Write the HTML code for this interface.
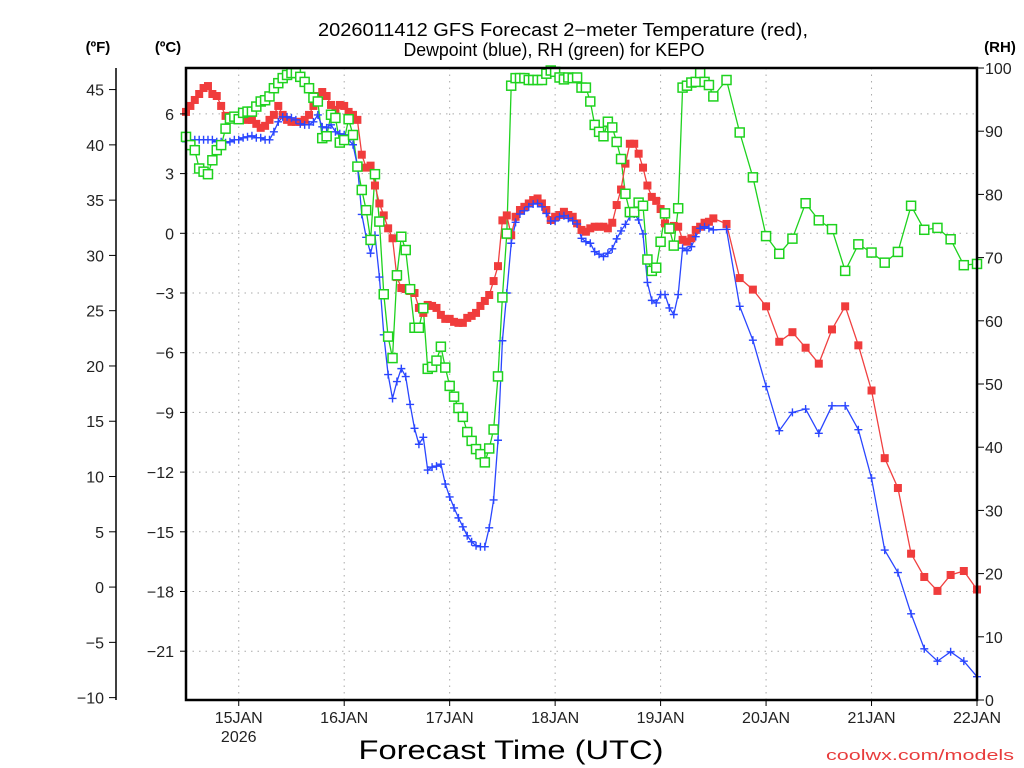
<!DOCTYPE html>
<html><head><meta charset="utf-8">
<style>
html,body{margin:0;padding:0;background:#fff;}
svg{display:block;font-family:"Liberation Sans",sans-serif;}
</style></head>
<body>
<svg id="chart" width="1024" height="768" viewBox="0 0 1024 768" xmlns="http://www.w3.org/2000/svg">
<rect x="0" y="0" width="1024" height="768" fill="#fff"/>
<g id="grid"></g>
<g id="series"></g>
<g id="axes"></g>
<text x="563" y="36" font-size="18" text-anchor="middle" textLength="490" lengthAdjust="spacingAndGlyphs">2026011412 GFS Forecast 2−meter Temperature (red),</text>
<text x="554" y="56" font-size="18" text-anchor="middle" textLength="301" lengthAdjust="spacingAndGlyphs">Dewpoint (blue), RH (green) for KEPO</text>
<text x="98" y="52" font-size="15" font-weight="bold" text-anchor="middle">(ºF)</text>
<text x="168" y="52" font-size="15" font-weight="bold" text-anchor="middle">(ºC)</text>
<text x="1000" y="52" font-size="15" font-weight="bold" text-anchor="middle">(RH)</text>
<text x="511" y="759" font-size="27" text-anchor="middle" textLength="305" lengthAdjust="spacingAndGlyphs">Forecast Time (UTC)</text>
<text x="1014" y="760" font-size="15" fill="#e83c3c" text-anchor="end" textLength="188" lengthAdjust="spacingAndGlyphs">coolwx.com/models</text>
</svg>
<script>
const hours = [];
for (let h = 0; h <= 120; h++) hours.push(h);
for (let h = 123; h <= 180; h += 3) hours.push(h);

const tempC = [6.1,6.4,6.7,7.0,7.3,7.4,7.0,6.9,6.4,5.9,5.8,5.8,5.8,5.8,5.7,5.7,5.5,5.3,5.4,5.7,
5.95,6.4,5.95,5.7,5.6,5.6,5.6,5.7,5.95,6.4,6.9,7.1,6.9,6.45,6.2,6.45,6.4,6.1,5.95,5.7,
3.95,3.3,3.4,2.4,1.5,0.9,0.25,-0.25,-2.2,-2.75,-2.8,-2.9,-3.0,-3.75,-4.0,-3.6,-3.65,-3.75,-4.1,-4.3,
-4.3,-4.45,-4.5,-4.5,-4.25,-4.15,-4.0,-3.65,-3.4,-3.1,-2.4,-1.65,0.65,0.9,-0.1,0.83,1.17,1.33,1.5,1.67,
1.75,1.5,1.17,0.67,0.83,0.92,1.08,0.92,0.83,0.5,0.17,0.08,0.25,0.33,0.33,0.33,0.25,0.53,1.42,2.2,
3.5,4.5,4.5,4.0,3.3,2.4,1.83,1.63,1.22,0.5,0.17,0.37,0.33,-0.33,-0.42,-0.25,0.17,0.33,0.53,0.58,0.75,
0.47,-2.25,-2.83,-3.67,-5.45,-4.97,-5.75,-6.55,-4.83,-3.67,-5.63,-7.9,-11.3,-12.8,-16.1,-17.27,-17.97,-17.17,-16.97,-17.9];

const dewC = [4.6,4.5,4.7,4.7,4.7,4.7,4.7,4.6,4.6,4.55,4.6,4.7,4.7,4.8,4.85,4.9,4.8,4.8,4.7,4.7,
5.1,5.6,5.85,5.85,5.8,5.7,5.5,5.45,5.45,5.6,5.95,5.35,5.3,5.45,5.1,5.0,4.95,4.7,4.45,3.4,
0.95,-0.2,-1.0,-0.1,-2.2,-5.1,-7.1,-8.3,-7.45,-6.8,-7.2,-8.6,-9.8,-10.6,-10.25,-11.9,-11.75,-11.7,-11.6,-12.6,
-13.25,-13.8,-14.3,-14.75,-15.2,-15.5,-15.7,-15.75,-15.75,-14.8,-13.4,-10.4,-5.4,-3.0,-0.5,0.55,0.97,1.13,1.33,1.47,
1.5,1.33,1.0,0.62,0.62,0.83,0.88,0.75,0.63,0.47,-0.25,-0.42,-0.5,-0.92,-1.05,-1.17,-1.0,-0.78,-0.28,0.12,
0.45,0.83,0.97,0.67,-0.03,-2.47,-3.37,-3.5,-3.08,-3.08,-3.75,-4.08,-3.08,-0.75,-0.87,-0.67,-0.17,0.25,0.33,0.25,0.17,
0.2,-3.67,-5.37,-7.7,-9.92,-9.0,-8.83,-10.05,-8.67,-8.67,-9.87,-12.3,-15.92,-17.05,-19.12,-20.88,-21.5,-21.03,-21.5,-22.28];

const rhPct = [89.1,87.8,87,84.1,83.6,83.2,85.4,87,87.8,90.4,92,92.3,91.9,92.9,93.1,93.1,93.9,94.7,94.9,95.5,
96.8,97.6,98.4,98.9,99.2,99.2,98.6,97.8,96.8,95.3,94.7,88.9,89.2,92.6,92.1,88.2,88.6,91.9,89.4,84.4,
80.7,77.5,72.8,83.2,75.7,64.2,57.5,54.1,67.2,73.3,71.2,65.0,58.9,58.9,62.0,52.4,52.7,53.7,55.9,52.6,
49.7,48.0,46.2,44.8,42.4,41.0,39.7,38.9,37.6,39.8,42.8,51.2,63.7,73.8,
97.2,98.4,98.4,98.4,98.1,98.1,98.1,98.1,99.1,99.6,99.4,98.5,98.2,98.5,98.4,98.5,
96.9,96.9,94.7,91.0,89.9,89.2,91.5,90.6,88.3,85.6,80.1,77.2,77.2,78.7,78.2,69.7,67.9,68.4,72.5,77.0,
74.6,71.9,77.8,96.9,97.2,97.7,97.8,99.2,97.8,97.3,95.5,
98.1,89.8,82.7,73.4,70.6,73.0,78.6,75.9,74.5,67.9,72.1,70.8,69.2,70.9,78.2,74.4,74.7,72.9,68.8,69.0];

const cTicks = [6,3,0,-3,-6,-9,-12,-15,-18,-21];
const fTicks = [45,40,35,30,25,20,15,10,5,0,-5,-10];
const rhTicks = [100,90,80,70,60,50,40,30,20,10,0];
const dayLabels = ["15JAN","16JAN","17JAN","18JAN","19JAN","20JAN","21JAN","22JAN"];
const dayHours = [12,36,60,84,108,132,156,180];

const NS = "http://www.w3.org/2000/svg";
const L = 186, R = 977, T = 68, B = 700;
const xS = h => L + (R - L) * h / 180;
const yC = c => 233.3 - 19.9 * c;
const yF = f => yC((f - 32) * 5 / 9);
const yRH = r => B - (B - T) * r / 100;

function mk(tag, attrs, parent) {
  const e = document.createElementNS(NS, tag);
  for (const k in attrs) e.setAttribute(k, attrs[k]);
  parent.appendChild(e);
  return e;
}
const grid = document.getElementById('grid');
const axes = document.getElementById('axes');
const series = document.getElementById('series');

// gridlines
cTicks.forEach(c => {
  const g = mk('line', {x1: L, x2: R, y1: yC(c), y2: yC(c), stroke: '#aaa', 'stroke-width': 1, 'stroke-dasharray': '1.5,5'}, grid);
  
  
});
dayHours.forEach(h => {
  const g = mk('line', {x1: xS(h), x2: xS(h), y1: T, y2: B, stroke: '#aaa', 'stroke-width': 1, 'stroke-dasharray': '1.5,5'}, grid);
  
  
});

// series
function line(vals, yf, color, name) {
  const pts = hours.map((h, i) => xS(h).toFixed(1) + ',' + yf(vals[i]).toFixed(1)).join(' ');
  const p = mk('polyline', {points: pts, fill: 'none', stroke: color, 'stroke-width': 1.3}, series);
  
  
}
line(rhPct, yRH, '#1ed21e', 'rh-line');
line(tempC, yC, '#f04040', 'temperature-line');
line(dewC, yC, '#2a46ff', 'dewpoint-line');

hours.forEach((h, i) => {
  const x = xS(h), y = yC(tempC[i]);
  const r = mk('rect', {x: x - 4, y: y - 4, width: 8, height: 8, fill: '#f03c3c'}, series);
  
  
});
hours.forEach((h, i) => {
  const x = xS(h), y = yC(dewC[i]);
  const p = mk('path', {d: `M${x-4},${y}H${x+4}M${x},${y-4}V${y+4}`, stroke: '#2a46ff', 'stroke-width': 1.4, fill: 'none'}, series);
  
  
});
hours.forEach((h, i) => {
  const x = xS(h), y = yRH(rhPct[i]);
  const r = mk('rect', {x: x - 4.5, y: y - 4.5, width: 9, height: 9, fill: '#fff', stroke: '#1ed21e', 'stroke-width': 1.5}, series);
  
  
});

// frame (white cover outside plot for clipping)
const frame = mk('rect', {x: L, y: T, width: R - L, height: B - T, fill: 'none', stroke: '#000', 'stroke-width': 2.5}, axes);



// Celsius axis
cTicks.forEach(c => {
  const t = mk('line', {x1: L - 6, x2: L, y1: yC(c), y2: yC(c), stroke: '#000', 'stroke-width': 1}, axes);
  
  
  const lb = mk('text', {x: 174, y: yC(c) + 6, 'font-size': 16, 'text-anchor': 'end', fill: '#222'}, axes);
  lb.textContent = c < 0 ? '−' + Math.abs(c) : String(c);
  
  
});

// Fahrenheit axis
const fl = mk('line', {x1: 116, x2: 116, y1: T, y2: B, stroke: '#000', 'stroke-width': 1.5}, axes);


fTicks.forEach(f => {
  const t = mk('line', {x1: 109, x2: 116, y1: yF(f), y2: yF(f), stroke: '#000', 'stroke-width': 1}, axes);
  
  
  const lb = mk('text', {x: 104, y: yF(f) + 6, 'font-size': 16, 'text-anchor': 'end', fill: '#222'}, axes);
  lb.textContent = f < 0 ? '−' + Math.abs(f) : String(f);
  
  
});

// RH axis
rhTicks.forEach(r => {
  const t = mk('line', {x1: R, x2: R + 7, y1: yRH(r), y2: yRH(r), stroke: '#000', 'stroke-width': 1}, axes);
  
  
  const lb = mk('text', {x: 985, y: yRH(r) + 6, 'font-size': 16, 'text-anchor': 'start', fill: '#222'}, axes);
  lb.textContent = String(r);
  
  
});

// Time axis
dayHours.forEach((h, i) => {
  const t = mk('line', {x1: xS(h), x2: xS(h), y1: B, y2: B + 6, stroke: '#000', 'stroke-width': 1}, axes);
  
  
  const lb = mk('text', {x: xS(h), y: 723, 'font-size': 16, 'text-anchor': 'middle', fill: '#222'}, axes);
  lb.textContent = dayLabels[i];
  
  
});
const yr = mk('text', {x: xS(12), y: 742, 'font-size': 16, 'text-anchor': 'middle', fill: '#222'}, axes);
yr.textContent = '2026';


</script>
</body></html>
